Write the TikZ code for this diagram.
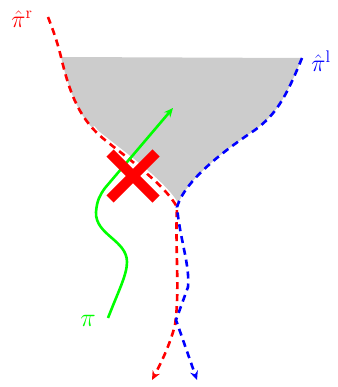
\documentclass[tikz,border=0pt]{standalone}
\usepackage{fix-cm}
\usepackage{amsmath}
\usetikzlibrary{arrows.meta, calc}

\tikzset{
	dashline/.style={dash pattern=on 7pt off 5pt, line width=2.6pt},
	lbl/.style={font=\fontsize{24}{28}\selectfont, inner sep=0pt},
}

\begin{document}
\begin{tikzpicture}[x=1pt, y=-1pt, >={Stealth[length=9pt, width=8pt]}]
		\useasboundingbox (0, 0) rectangle (337, 387);

		\coordinate (R0) at (48, 17);
		\coordinate (C0) at (61, 57);
		\coordinate (R1) at (105, 140);
		\coordinate (T) at (177, 207);
		\coordinate (L0) at (302, 58);
		\coordinate (L1) at (255, 130);
		\coordinate (X) at (133, 176);

		% shaded region between the two curves
		\fill[black!20] (C0) .. controls (70, 95) and (80, 120) .. (R1)
			.. controls (130, 160) and (165, 185) .. (T)
			.. controls (185, 180) and (225, 150) .. (L1)
			.. controls (275, 115) and (285, 100) .. (L0) -- cycle;

		\draw[white, line width=6pt] (92, 128) .. controls (97, 134) .. (R1)
			.. controls (130, 160) and (165, 185) .. (T);

		\draw[->, red, dashline] (R0) .. controls (55, 35) and (58, 45) .. (C0)
			.. controls (70, 95) and (80, 120) .. (R1)
			.. controls (130, 160) and (165, 185) .. (T)
			.. controls (175, 250) and (180, 290) .. (175, 325)
			.. controls (170, 345) and (160, 365) .. (152, 380);
		\draw[->, blue, dashline] (L0) .. controls (285, 100) and (275, 115) .. (L1)
			.. controls (225, 150) and (185, 180) .. (T)
			.. controls (180, 240) and (190, 265) .. (188, 287)
			-- (176, 320) -- (197, 380);

		\draw[->, green, line width=2.6pt] (108, 318) .. controls (118, 292) and (127, 275) .. (127, 262)
			.. controls (127, 240) and (95, 235) .. (96, 212)
			.. controls (97, 200) and (100, 195) .. (105, 188) -- (173, 108);

		\draw[red, line width=10pt] ($(X)+(-23, -23)$) -- ($(X)+(23, 23)$);
		\draw[red, line width=10pt] ($(X)+(23, -23)$) -- ($(X)+(-23, 23)$);

		\node[lbl, red] (pir) at (22, 19) {$\hat{\pi}^{\mathrm{r}}$};
		\node[lbl, blue] (pil) at (321, 61) {$\hat{\pi}^{\mathrm{l}}$};
		\node[lbl, green, font=\fontsize{26}{30}\selectfont] (pi) at (88, 321) {$\pi$};
	\end{tikzpicture}
\end{document}
